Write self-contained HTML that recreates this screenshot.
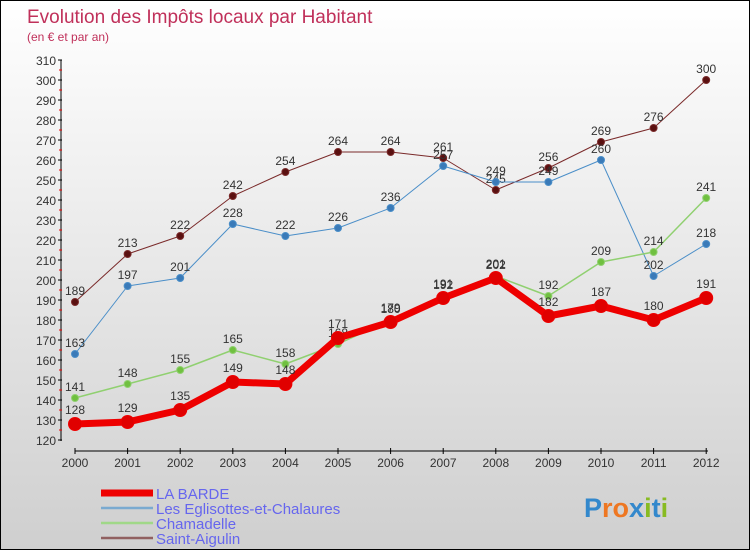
<!DOCTYPE html>
<html><head><meta charset="utf-8"><style>
body{margin:0}
#c{width:748px;height:548px;border:1px solid #000;background:linear-gradient(#fff,#cfcfcf);position:relative;font-family:"Liberation Sans",sans-serif}
</style></head><body>
<div id="c">
<svg id="s" width="748" height="548" xmlns="http://www.w3.org/2000/svg"></svg>
</div>
<script>
const years=[2000,2001,2002,2003,2004,2005,2006,2007,2008,2009,2010,2011,2012];
const laBarde=[128,129,135,149,148,171,179,191,201,182,187,180,191];
const eglisottes=[163,197,201,228,222,226,236,257,249,249,260,202,218];
const chamadelle=[141,148,155,165,158,168,180,192,202,192,209,214,241];
const saintAigulin=[189,213,222,242,254,264,264,261,245,256,269,276,300];
const yTicks=[120,130,140,150,160,170,180,190,200,210,220,230,240,250,260,270,280,290,300,310];
const NS="http://www.w3.org/2000/svg";
const s=document.getElementById('s');
const X=i=>74+i*52.6;
const Y=v=>439-(v-120)*2;
function el(t,a,p){const e=document.createElementNS(NS,t);for(const k in a)e.setAttribute(k,a[k]);(p||s).appendChild(e);return e;}
function txt(x,y,str,a){const e=el('text',Object.assign({x:x,y:y},a));e.textContent=str;return e;}
let t=txt(26,22,'Evolution des Impôts locaux par Habitant',{fill:'#c0305a','font-size':19});


t=txt(26,40,'(en € et par an)',{fill:'#c0305a','font-size':12});


let ax=el('line',{x1:60,y1:59,x2:60,y2:440,stroke:'#000'});


ax=el('line',{x1:74,y1:450,x2:707,y2:450,stroke:'#000'});


yTicks.forEach(v=>{
  el('line',{x1:57,y1:Y(v),x2:61,y2:Y(v),stroke:'#000'});
  if(v<310)el('line',{x1:58,y1:Y(v+5),x2:61,y2:Y(v+5),stroke:'#e00'});
  const l=txt(55,Y(v)+5,v,{'text-anchor':'end','font-size':12,fill:'#333'});
  
  
});
years.forEach((y,i)=>{
  el('line',{x1:X(i),y1:447,x2:X(i),y2:453,stroke:'#000'});
  const l=txt(X(i),466,y,{'text-anchor':'middle','font-size':12,fill:'#333'});
  
  
});
function series(d,color,dot,w,r,name,labelDy){
  const g=el('g',{});
  
  
  el('polyline',{points:d.map((v,i)=>X(i)+','+Y(v)).join(' '),fill:'none',stroke:color,'stroke-width':w,'stroke-linejoin':'round'},g);
  d.forEach((v,i)=>{
    const c=el('circle',{cx:X(i),cy:Y(v),r:r,fill:dot,stroke:color,'stroke-width':1},g);
    
    
    const l=txt(X(i),Y(v)-labelDy,v,{'text-anchor':'middle','font-size':12,fill:'#333'},g);
    
    
  });
}
series(saintAigulin,'#7a2a2a','#5a1010',1,3.5,'saint-aigulin',7);
series(eglisottes,'#4a8ec8','#3a7ab8',1,3.5,'eglisottes',7);
series(chamadelle,'#90d070','#70c040',1.5,3.5,'chamadelle',7);
series(laBarde,'#ee0000','#e00000',7,6.5,'la-barde',10);
const leg=[['LA BARDE','#ee0000',7],['Les Eglisottes-et-Chalaures','#7aaad0',2.5],['Chamadelle','#a0d888',2.5],['Saint-Aigulin','#906060',2.5]];
leg.forEach((l,i)=>{
  const g=el('g',{});
  
  
  const y=492+i*15;
  el('line',{x1:100,y1:y,x2:152,y2:y,stroke:l[1],'stroke-width':l[2]},g);
  txt(155,y+6,l[0],{'font-size':15,fill:'#6666ee'},g);
});
const lg=el('g',{});


const cols=['#3388cc','#ee7722','#ee7722','#3388cc','#88bb22','#3388cc','#88bb22'];
'Proxiti'.split('').forEach((ch,i)=>{
  txt(584+i*[0,17,12,16,16,9,9].slice(0,i+1).reduce((a,b)=>a+b,0)/i||584,514,ch,{});
});
lg.remove();
const lg2=el('text',{x:583,y:516,'font-size':27,'font-weight':'bold'});


s.querySelectorAll('text').forEach(e=>{if(e.textContent.length==1&&'Proxiti'.includes(e.textContent)&&e.getAttribute('y')=='514')e.remove();});
'Proxiti'.split('').forEach((ch,i)=>{const ts=el('tspan',{fill:cols[i]},lg2);ts.textContent=ch;});
</script>
</body></html>
